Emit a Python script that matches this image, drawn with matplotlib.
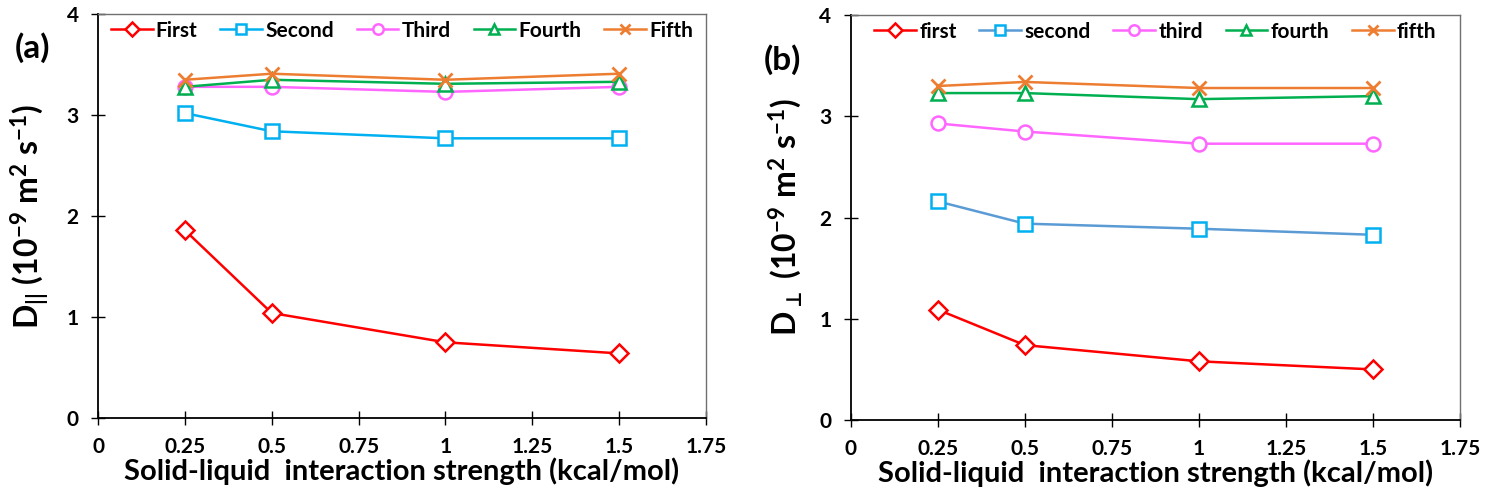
import matplotlib

matplotlib.use("Agg")

import matplotlib.pyplot as plt  # noqa: E402

plt.rcParams["font.family"] = ["Lato", "DejaVu Sans"]
plt.rcParams["font.weight"] = "bold"
plt.rcParams["mathtext.fontset"] = "custom"
plt.rcParams["mathtext.rm"] = "Lato:bold"
plt.rcParams["mathtext.it"] = "Lato:bold"
plt.rcParams["mathtext.bf"] = "Lato:bold"
plt.rcParams["mathtext.sf"] = "Lato:bold"
plt.rcParams["mathtext.fallback"] = "stixsans"
plt.rcParams["mathtext.default"] = "rm"

# interaction strength (kcal/mol)
strength = [0.25, 0.5, 1.0, 1.5]

# (a) parallel diffusion coefficient, 10^-9 m^2/s
par_first = [1.86, 1.04, 0.75, 0.64]
par_second = [3.02, 2.84, 2.77, 2.77]
par_third = [3.28, 3.28, 3.23, 3.28]
par_fourth = [3.28, 3.35, 3.31, 3.33]
par_fifth = [3.35, 3.41, 3.35, 3.41]

# (b) perpendicular diffusion coefficient
perp_first = [1.09, 0.74, 0.58, 0.50]
perp_second = [2.16, 1.94, 1.89, 1.83]
perp_third = [2.93, 2.85, 2.73, 2.73]
perp_fourth = [3.23, 3.23, 3.17, 3.20]
perp_fifth = [3.30, 3.34, 3.28, 3.28]

labels_a = ["First", "Second", "Third", "Fourth", "Fifth"]
labels_b = ["first", "second", "third", "fourth", "fifth"]

xticks = [0, 0.25, 0.5, 0.75, 1, 1.25, 1.5, 1.75]
xtick_labels = ["0", "0.25", "0.5", "0.75", "1", "1.25", "1.5", "1.75"]

RED = "#ff0000"
CYAN = "#00b0f0"
STEEL = "#5b9bd5"
PINK = "#ff66ff"
GREEN = "#00b050"
ORANGE = "#ed7d31"

MARKERS = ["D", "s", "o", "^", "x"]


def draw_panel(ax, series, labels, line_colors, marker_colors, ylabel):
    for ys, lab, lc, mc, mk in zip(series, labels, line_colors,
                                   marker_colors, MARKERS):
        ms = 9 if mk == "D" else 10
        if mk == "x":
            ax.plot(strength, ys, color=lc, linewidth=1.8, marker=mk,
                    markersize=ms, markeredgewidth=2.0, markeredgecolor=mc,
                    label=lab)
        else:
            ax.plot(strength, ys, color=lc, linewidth=1.8, marker=mk,
                    markersize=ms, markeredgewidth=1.8, markeredgecolor=mc,
                    markerfacecolor="white", label=lab)

    ax.set_xlim(0, 1.75)
    ax.set_ylim(0, 4)
    ax.set_xticks(xticks)
    ax.set_xticklabels(xtick_labels)
    ax.set_yticks([0, 1, 2, 3, 4])
    ax.tick_params(direction="inout", length=10, width=1.0, labelsize=15,
                   pad=9)
    ax.set_xlabel("Solid-liquid  interaction strength (kcal/mol)",
                  fontsize=21, fontweight="bold", labelpad=0)
    ax.set_ylabel(ylabel, fontsize=23, fontweight="bold", labelpad=11)

    for side in ("top", "right"):
        ax.spines[side].set_color("#707070")
        ax.spines[side].set_linewidth(1.0)
    for side in ("left", "bottom"):
        ax.spines[side].set_color("black")
        ax.spines[side].set_linewidth(1.3)

    ax.legend(loc="upper center", ncol=5, frameon=False, fontsize=15,
              handlelength=2.0, handletextpad=0.15, columnspacing=1.1,
              markerscale=0.75, borderaxespad=0.1,
              bbox_to_anchor=(0.5, 1.01))


fig = plt.figure(figsize=(14.85, 4.98), dpi=100)
ax_a = fig.add_axes([0.066, 0.1606, 0.4094, 0.811])
ax_b = fig.add_axes([0.573, 0.1566, 0.410, 0.813])

draw_panel(
    ax_a,
    [par_first, par_second, par_third, par_fourth, par_fifth],
    labels_a,
    [RED, CYAN, PINK, GREEN, ORANGE],
    [RED, CYAN, PINK, GREEN, ORANGE],
    r"D$_{||}$ (10$^{-9}$ m$^{2}$ s$^{-1}$)",
)
draw_panel(
    ax_b,
    [perp_first, perp_second, perp_third, perp_fourth, perp_fifth],
    labels_b,
    [RED, STEEL, PINK, GREEN, ORANGE],
    [RED, CYAN, PINK, GREEN, ORANGE],
    r"D$_{\bot}$ (10$^{-9}$ m$^{2}$ s$^{-1}$)",
)

fig.text(33 / 1485, 1 - 48 / 498, "(a)", fontsize=24, fontweight="bold",
         ha="center", va="center")
fig.text(782 / 1485, 1 - 60 / 498, "(b)", fontsize=24, fontweight="bold",
         ha="center", va="center")

fig.savefig("out.png", dpi=100, facecolor="white")
